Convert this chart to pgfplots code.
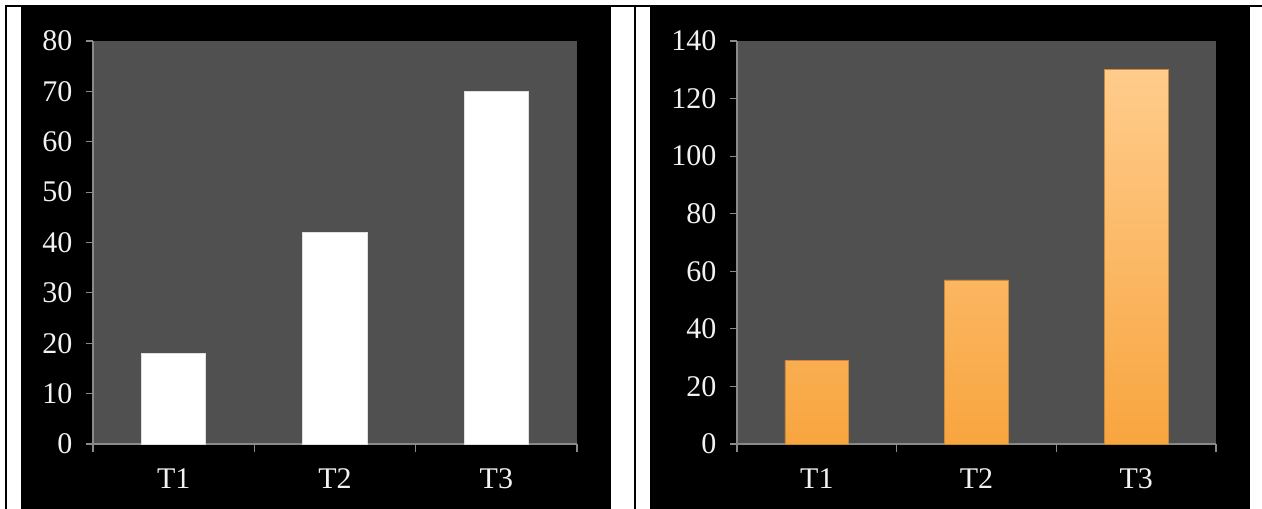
\documentclass[border=0pt]{standalone}
\usepackage{pgfplots}
\pgfplotsset{compat=1.18}
\usepackage{fontspec}
\setmainfont{Liberation Serif}
\definecolor{plotgray}{HTML}{505050}
\definecolor{axisgray}{HTML}{8A8A8A}
\definecolor{labelc}{HTML}{F2F2F2}
\definecolor{orTop}{HTML}{FFCC8C}
\definecolor{orBot}{HTML}{F8A53F}
\definecolor{orEdge}{HTML}{C98A3C}
\pgfplotsset{
  panel/.style={
    scale only axis,
    axis x line=bottom, axis y line=left,
    axis line style={-, draw=axisgray, line width=1.2pt},
    axis background/.style={fill=plotgray},
    xmin=-0.5, xmax=2.5, ymin=0,
    xtick={0,1,2}, xticklabels={T1,T2,T3},
    xtick style={draw=none},
    extra x ticks={-0.5,0.5,1.5,2.5},
    extra x tick labels={},
    extra x tick style={tick align=outside, major tick length=8pt, xtick style={draw=axisgray, line width=1.2pt}},
    tick align=outside, major tick length=7pt,
    ytick style={draw=axisgray, line width=1.2pt},
    tick label style={font=\fontsize{30}{34}\selectfont, text=labelc},
    /pgf/number format/assume math mode=true,
    yticklabel style={xshift=-10pt},
    xticklabel style={yshift=-14pt},
    ybar, bar width=0.4,
    clip=false,
  }
}
\begin{document}
\begin{tikzpicture}[x=1pt,y=1pt]
\path[use as bounding box] (0,0) rectangle (1262,509);
\fill[white] (0,0) rectangle (1262,509);
\fill[black] (5,0) rectangle (7,504);
\fill[black] (5,502) rectangle (1262,504);
\fill[black] (634,0) rectangle (636,504);
\fill[black] (21,0) rectangle (611,502);
\fill[black] (650,0) rectangle (1250,502);
\begin{axis}[panel, at={(93pt,65pt)}, anchor=south west,
  width=484pt, height=403pt, ymax=80, ytick={0,10,...,80}]
\addplot[draw=white!75!gray, line width=1pt, fill=white]
  coordinates {(0,18) (1,42) (2,70)};
\end{axis}
\begin{axis}[panel, at={(737pt,65pt)}, anchor=south west,
  width=479pt, height=403pt, ymax=140, ytick={0,20,...,140}]
\addplot[draw=orEdge, line width=0.8pt, top color=orTop, bottom color=orBot]
  coordinates {(0,29) (1,57) (2,130)};
\end{axis}
\end{tikzpicture}
\end{document}
